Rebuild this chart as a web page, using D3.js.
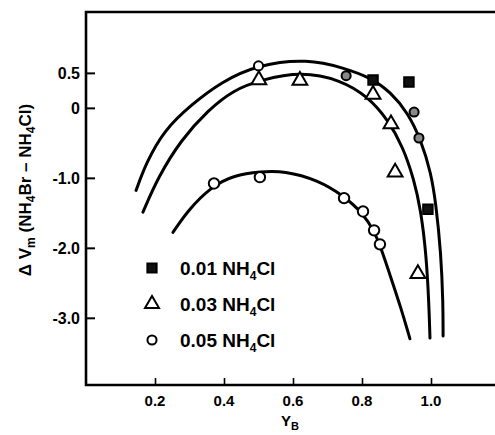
<!DOCTYPE html>
<html>
<head>
<meta charset="utf-8">
<script src="https://cdn.jsdelivr.net/npm/d3@7"></script>
<style>
  body { margin: 0; background: #fff; }
  svg { display: block; font-family: "Liberation Sans", Arial, sans-serif; font-weight: bold; }
</style>
</head>
<body>
<div id="chart"></div>
<script>
var width = 495
var height = 435
var margin = { top: 12, right: -5, bottom: 50, left: 86 };

// tick values and their printed labels
var xTicks = [0.2, 0.4, 0.6, 0.8, 1.0];
var xTickLabels = ["0.2", "0.4", "0.6", "0.8", "1.0"];
var yTicks = [0.5, 0, -1, -2, -3];
var yTickLabels = ["0.5", "0", "-1.0", "-2.0", "-3.0"];

// smooth fitted curves
var curve01 = [[0.145, -1.18], [0.174, -0.79], [0.226, -0.32], [0.304, 0.04], [0.391, 0.37], [0.499, 0.62],
    [0.643, 0.70], [0.748, 0.57], [0.826, 0.43], [0.884, 0.22], [0.933, -0.07], [0.971, -0.46],
    [1.0, -0.93], [1.014, -1.36], [1.029, -2.08], [1.035, -2.80], [1.035, -3.26]];
var curve03 = [[0.165, -1.49], [0.209, -0.99], [0.275, -0.46], [0.354, -0.03], [0.429, 0.26], [0.507, 0.40],
    [0.623, 0.52], [0.739, 0.40], [0.817, 0.16], [0.875, -0.17], [0.919, -0.56], [0.951, -1.03],
    [0.970, -1.45], [0.986, -2.08], [0.994, -2.80], [0.997, -3.29]];
var curve05 = [[0.252, -1.78], [0.296, -1.46], [0.362, -1.13], [0.429, -0.96], [0.507, -0.91], [0.574, -0.90],
    [0.672, -1.03], [0.748, -1.26], [0.803, -1.51], [0.835, -1.76], [0.855, -2.0], [0.884, -2.43],
    [0.913, -2.86], [0.939, -3.30]];

// measured points
var points01 = [[0.832, 0.40], [0.936, 0.37], [0.991, -1.45]];
var points01grey = [[0.754, 0.46], [0.951, -0.06], [0.965, -0.43]];
var pointsOpen = [[0.5, 0.60]];
var points03 = [[0.501, 0.40], [0.62, 0.39], [0.832, 0.19], [0.884, -0.23], [0.896, -0.92], [0.962, -2.37]];
var points05 = [[0.371, -1.08], [0.504, -0.99], [0.748, -1.29], [0.803, -1.48], [0.835, -1.75], [0.852, -1.95]];

var legendLabels = ["0.01", "0.03", "0.05"];

var svg = d3.select("#chart").append("svg")
    .attr("width", width)
    .attr("height", height);

var xScale = d3.scaleLinear()
    .domain([0, 1.2])
    .range([margin.left, margin.left + 414]);

var yScale = d3.scaleLinear()
    .domain([-3.96, 1.37])
    .range([height - margin.bottom, margin.top]);

// frame (right side falls off the picture)
svg.append("path")
    .attr("d", "M" + xScale(1.2) + "," + yScale(1.37) + "H" + xScale(0) + "V" + yScale(-3.96) + "H" + xScale(1.2))
    .attr("fill", "none")
    .attr("stroke", "#000")
    .attr("stroke-width", 2.6);

// ticks pointing inward
svg.append("g")
    .attr("transform", "translate(0," + yScale(-3.96) + ")")
    .call(d3.axisTop(xScale).tickValues(xTicks).tickSize(7).tickFormat(""))
    .call(function(g) { g.select(".domain").remove(); })
    .selectAll("line").attr("stroke-width", 1.6);

svg.append("g")
    .attr("transform", "translate(" + xScale(0) + ",0)")
    .call(d3.axisRight(yScale).tickValues(yTicks).tickSize(9).tickFormat(""))
    .call(function(g) { g.select(".domain").remove(); })
    .selectAll("line").attr("stroke-width", 2);

svg.append("g").selectAll("text")
    .data(xTicks)
    .join("text")
    .attr("x", function(d) { return xScale(d); })
    .attr("y", 406)
    .attr("text-anchor", "middle")
    .attr("font-size", 15)
    .text(function(d, i) { return xTickLabels[i]; });

svg.append("g").selectAll("text")
    .data(yTicks)
    .join("text")
    .attr("x", 80)
    .attr("y", function(d) { return yScale(d) + 6; })
    .attr("text-anchor", "end")
    .attr("font-size", 16)
    .text(function(d, i) { return yTickLabels[i]; });

// curves
var line = d3.line()
    .x(function(d) { return xScale(d[0]); })
    .y(function(d) { return yScale(d[1]); })
    .curve(d3.curveBasis);

[curve01, curve03, curve05].forEach(function(c) {
    svg.append("path")
        .datum(c)
        .attr("d", line)
        .attr("fill", "none")
        .attr("stroke", "#000")
        .attr("stroke-width", 3)
        .attr("stroke-linecap", "round");
});

// markers
var sym = {
    square: d3.symbol().type(d3.symbolSquare).size(90),
    triangle: d3.symbol().type(d3.symbolTriangle).size(95),
    circle: d3.symbol().type(d3.symbolCircle).size(85),
    small: d3.symbol().type(d3.symbolCircle).size(65)
};

function drawPoints(data, shape, fill) {
    svg.append("g").selectAll("path")
        .data(data)
        .join("path")
        .attr("transform", function(d) { return "translate(" + xScale(d[0]) + "," + yScale(d[1]) + ")"; })
        .attr("d", sym[shape])
        .attr("fill", fill)
        .attr("stroke", "#000")
        .attr("stroke-width", 2);
}

drawPoints(points01grey, "small", "#888");
drawPoints(pointsOpen, "small", "#fff");
drawPoints(points01, "square", "#111");
drawPoints(points03, "triangle", "#fff");
drawPoints(points05, "circle", "#fff");

// legend
var legendSym = [d3.symbol().type(d3.symbolSquare).size(85), d3.symbol().type(d3.symbolTriangle).size(85),
    d3.symbol().type(d3.symbolCircle).size(65)];
var legendFills = ["#111", "#fff", "#fff"];
var legend = svg.append("g");
legendLabels.forEach(function(lab, i) {
    var yy = 268 + i * 36;
    legend.append("path")
        .attr("transform", "translate(152," + yy + ")")
        .attr("d", legendSym[i]())
        .attr("fill", legendFills[i])
        .attr("stroke", "#000")
        .attr("stroke-width", 2);
    var t = legend.append("text")
        .attr("x", 180)
        .attr("y", yy + 7)
        .attr("font-size", 19);
    t.append("tspan").text(lab + " NH");
    t.append("tspan").attr("font-size", 12).attr("dy", 5).text("4");
    t.append("tspan").attr("dy", -5).text("Cl");
});

// axis titles
var yTitle = svg.append("text")
    .attr("transform", "translate(31,190) rotate(-90)")
    .attr("text-anchor", "middle")
    .attr("font-size", 17);
yTitle.append("tspan").text("\u0394 V");
yTitle.append("tspan").attr("font-size", 12).attr("dy", 4).text("m");
yTitle.append("tspan").attr("dy", -4).text("  (NH");
yTitle.append("tspan").attr("font-size", 12).attr("dy", 4).text("4");
yTitle.append("tspan").attr("dy", -4).text("Br \u2013 NH");
yTitle.append("tspan").attr("font-size", 12).attr("dy", 4).text("4");
yTitle.append("tspan").attr("dy", -4).text("Cl)");

var xTitle = svg.append("text")
    .attr("x", 290)
    .attr("y", 426)
    .attr("text-anchor", "middle")
    .attr("font-size", 15);
xTitle.append("tspan").text("Y");
xTitle.append("tspan").attr("font-size", 11).attr("dy", 4).text("B");
</script>
</body>
</html>
